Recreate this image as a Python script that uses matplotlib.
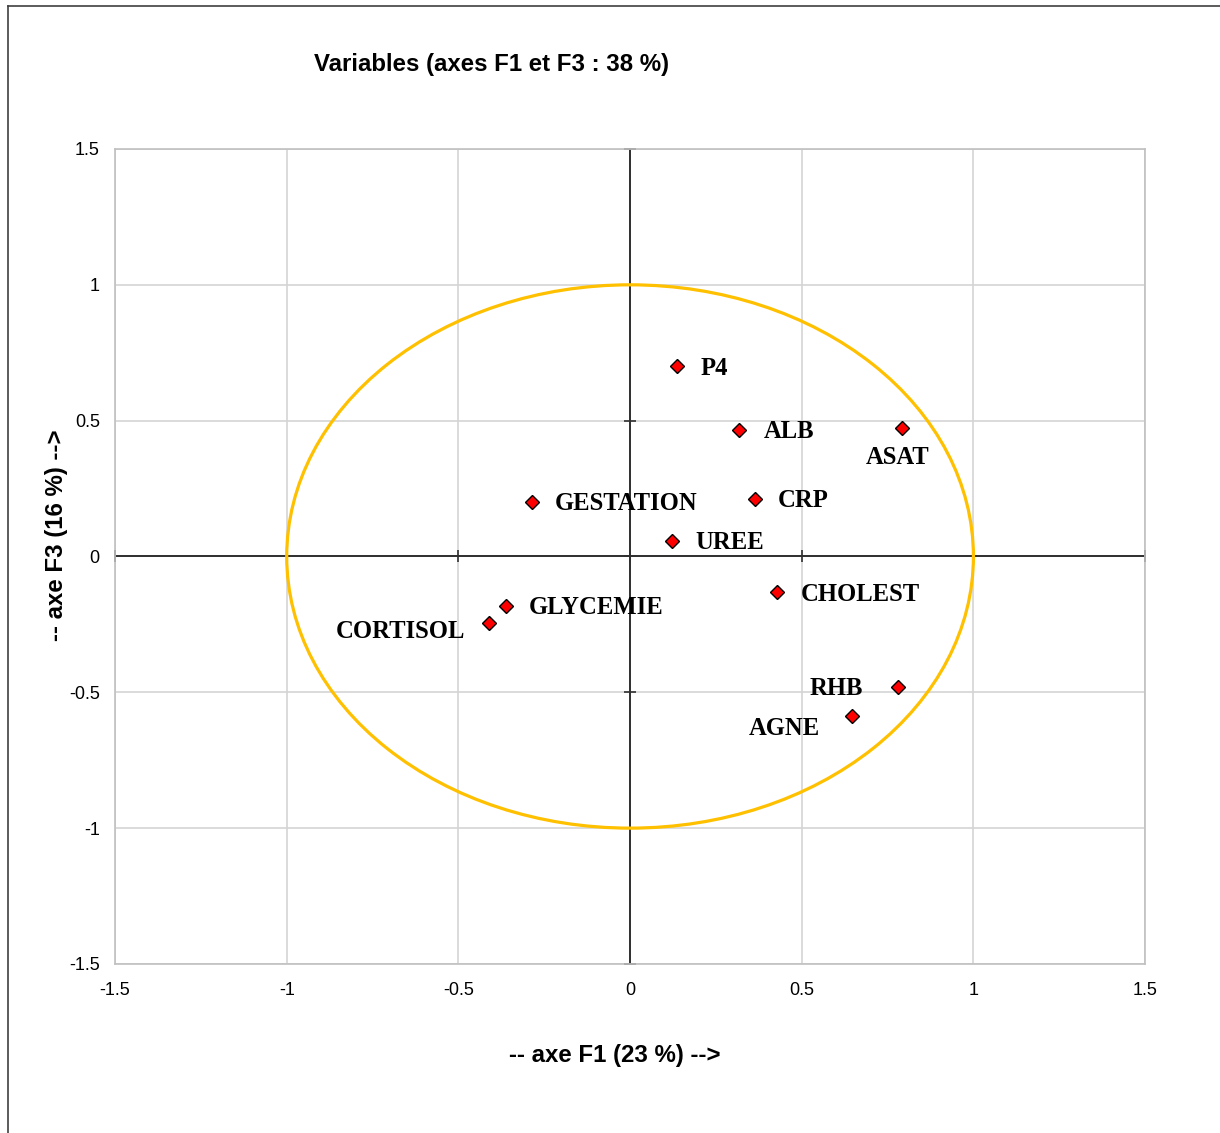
import matplotlib.pyplot as plt
import numpy as np
from matplotlib.patches import Ellipse
from matplotlib.lines import Line2D

# coordonnees des variables sur F1 / F3
variables = ["P4", "ALB", "ASAT", "GESTATION", "CRP", "UREE",
             "CHOLEST", "GLYCEMIE", "CORTISOL", "RHB", "AGNE"]
f1 = [0.137, 0.318, 0.792, -0.285, 0.364, 0.122, 0.428, -0.361, -0.411, 0.781, 0.647]
f3 = [0.701, 0.466, 0.473, 0.201, 0.212, 0.057, -0.131, -0.182, -0.245, -0.480, -0.587]

ticks = [-1.5, -1, -0.5, 0, 0.5, 1, 1.5]
tick_labels = ["-1.5", "-1", "-0.5", "0", "0.5", "1", "1.5"]

# position des etiquettes (decalage en pixels, alignement)
label_pos = {
    "P4": (23, -2, "left"), "ALB": (24, -2, "left"), "ASAT": (-4, -30, "center"),
    "GESTATION": (23, -2, "left"), "CRP": (23, -2, "left"), "UREE": (23, -2, "left"),
    "CHOLEST": (24, -2, "left"), "GLYCEMIE": (23, -2, "left"),
    "CORTISOL": (-24, -8, "right"), "RHB": (-35, -2, "right"), "AGNE": (-32, -13, "right"),
}

fig = plt.figure(figsize=(12.2, 11.33), dpi=100)
ax = fig.add_axes([0.0943, 0.1492, 0.8443, 0.7193])

ax.set_xlim(-1.5, 1.5)
ax.set_ylim(-1.5, 1.5)
ax.set_xticks(ticks)
ax.set_yticks(ticks)
ax.set_xticklabels(tick_labels, family="Liberation Sans", fontsize=13)
ax.set_yticklabels(tick_labels, family="Liberation Sans", fontsize=13)
ax.tick_params(length=0)
ax.tick_params(axis="x", pad=13)
ax.tick_params(axis="y", pad=11)
ax.grid(True, color="#d4d4d4", lw=1.2)
ax.set_axisbelow(True)
for s in ax.spines.values():
    s.set_color("#c0c0c0")
    s.set_linewidth(1.2)

# axes passant par l'origine
ax.axhline(0, color="black", lw=1.1, zorder=2)
ax.axvline(0, color="black", lw=1.1, zorder=2)
ax.plot(ticks, np.zeros(len(ticks)), ls="", marker="|", ms=8, mew=1.2, color="#303030", zorder=2, clip_on=False)
ax.plot(np.zeros(len(ticks)), ticks, ls="", marker="_", ms=8, mew=1.2, color="#303030", zorder=2, clip_on=False)

# cercle des correlations
ax.add_patch(Ellipse((0, 0), 2, 2, fill=False, edgecolor="#FFC000", lw=2.3, zorder=3))

ax.plot(f1, f3, ls="", marker="D", ms=7.3, mfc="#FF0000", mec="black", mew=1.0, zorder=4)

for name, x, y in zip(variables, f1, f3):
    dx, dy, ha = label_pos[name]
    ax.annotate(name, (x, y), xytext=(dx, dy), textcoords="offset pixels",
                ha=ha, va="center", family="Liberation Serif", fontweight="bold",
                fontsize=17.7, zorder=5)

fig.text(0.4033, 0.9435, "Variables (axes F1 et F3 : 38 %)", ha="center", va="center",
         family="Liberation Sans", fontweight="bold", fontsize=17.3)
fig.text(0.504, 0.0688, "-- axe F1 (23 %) -->", ha="center", va="center",
         family="Liberation Sans", fontweight="bold", fontsize=17.3)
fig.text(0.0467, 0.528, "-- axe F3 (16 %) -->", ha="center", va="center", rotation=90,
         family="Liberation Sans", fontweight="bold", fontsize=17.3)

# cadre exterieur
fig.add_artist(Line2D([0.0066, 1.0], [0.9947, 0.9947], color="#404040", lw=1.2))
fig.add_artist(Line2D([0.0066, 0.0066], [0.0, 0.9947], color="#404040", lw=1.2))

fig.savefig("out.png", dpi=100)
